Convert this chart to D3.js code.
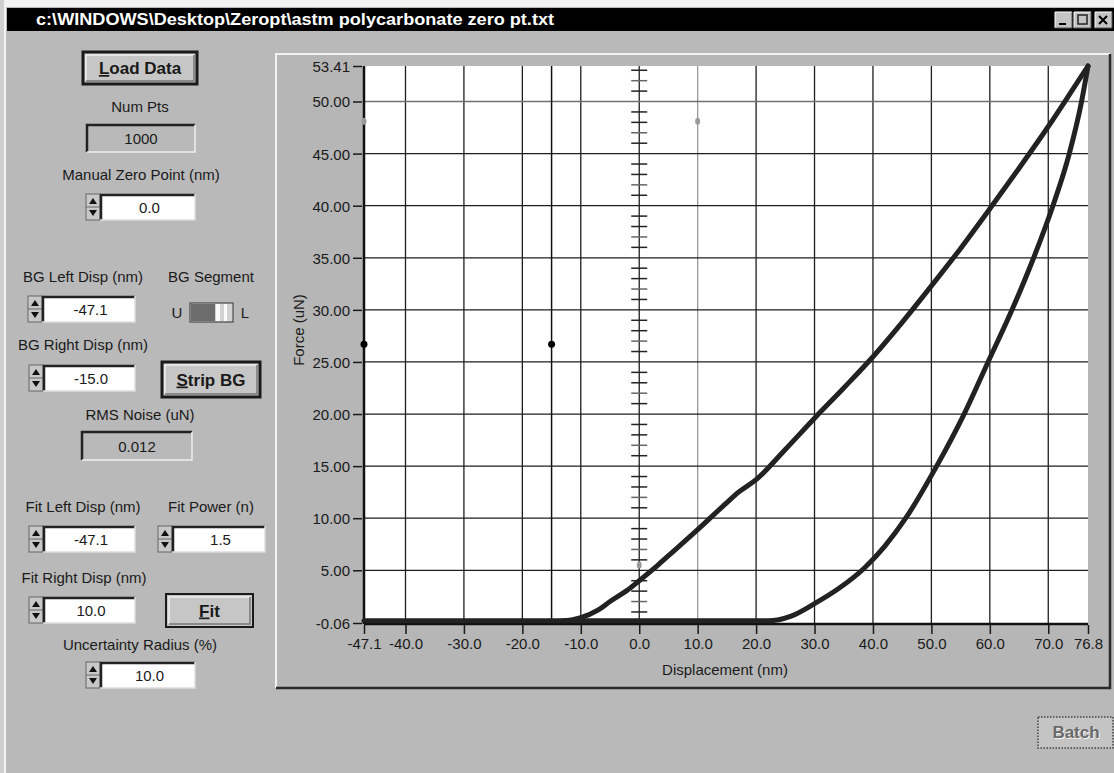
<!DOCTYPE html>
<html>
<head>
<meta charset="utf-8">
<title>astm polycarbonate zero pt</title>
<script src="https://d3js.org/d3.v7.min.js" charset="utf-8"></script>
<style>
  body { margin: 0; background: #b9b9b9; }
  svg { display: block; }
  text { font-family: "Liberation Sans", Arial, sans-serif; fill: #1a1a1a; }
</style>
</head>
<body>
<script>
// --- chart data ---
var loadDisp  = [-47.1, -13, -10, -7, -5, -2, 0, 3, 5, 10, 15, 17, 20, 25, 30, 35, 40, 45, 50, 55, 60, 65, 70, 74, 76.8];
var loadForce = [0.15, 0.15, 0.45, 1.2, 2.0, 3.1, 4.0, 5.4, 6.4, 8.9, 11.5, 12.5, 13.7, 16.6, 19.6, 22.5, 25.5, 28.8, 32.3, 35.9, 39.7, 43.6, 47.6, 51.0, 53.41];
var unloadDisp  = [-13, 0, 10, 20, 22, 26, 30, 34, 38.5, 42, 45.6, 50.9, 55.6, 59.7, 63.8, 67.5, 70.8, 73.6, 75.7, 76.8];
var unloadForce = [0.15, 0.15, 0.15, 0.15, 0.15, 0.6, 1.8, 3.2, 5.2, 7.3, 10.0, 15.0, 20.0, 25.0, 30.0, 35.0, 40.0, 45.0, 50.0, 53.41];

var xTicks = [-47.1, -40, -30, -20, -10, 0, 10, 20, 30, 40, 50, 60, 70, 76.8];
var yTicks = [-0.06, 5, 10, 15, 20, 25, 30, 35, 40, 45, 50, 53.41];
var xDomain = [-47.1, 76.8];
var yDomain = [-0.06, 53.41];

// cursors: background segment ends and fit markers
var blackDotDisp = [-47.1, -15.0];
var blackDotForce = [26.7, 26.7];
var grayDotDisp = [-47.1, 10.0, 0.0];
var grayDotForce = [48.1, 48.1, 5.5];
var ladderForce = d3.range(1, 54).filter(function(v) { return v % 5 !== 0; });

var W = 1114, H = 773;
var svg = d3.select("body").append("svg").attr("width", W).attr("height", H);

// window frame
svg.append("rect").attr("width", W).attr("height", H).attr("fill", "#b9b9b9");
svg.append("rect").attr("width", W).attr("height", 7).attr("fill", "#f2f2f2");
svg.append("rect").attr("width", 4).attr("height", H).attr("fill", "#cfcfcf");
svg.append("rect").attr("x", 4).attr("y", 7).attr("width", 2).attr("height", H).attr("fill", "#f4f4f4");
svg.append("rect").attr("x", 7).attr("y", 8).attr("width", W - 7).attr("height", 23).attr("fill", "#000");
svg.append("text").attr("x", 36).attr("y", 25)
    .attr("textLength", 518).attr("lengthAdjust", "spacingAndGlyphs")
    .style("font-size", "16px").style("font-weight", "bold").style("fill", "#fff")
    .text("c:\\WINDOWS\\Desktop\\Zeropt\\astm polycarbonate zero pt.txt");

// title bar buttons
[1055, 1074, 1095].forEach(function(bx, i) {
    var g = svg.append("g").attr("transform", "translate(" + bx + ",12)");
    g.append("rect").attr("width", 17).attr("height", 16).attr("fill", "#c4c4c4");
    g.append("path").attr("d", "M0,16V0H17").attr("fill", "none").attr("stroke", "#fff");
    g.append("path").attr("d", "M17,0V16H0").attr("fill", "none").attr("stroke", "#555");
    if (i === 0) g.append("rect").attr("x", 4).attr("y", 11).attr("width", 7).attr("height", 2).attr("fill", "#000");
    if (i === 1) g.append("rect").attr("x", 4).attr("y", 3).attr("width", 9).attr("height", 9).attr("fill", "none").attr("stroke", "#222").attr("stroke-width", 1.5);
    if (i === 2) g.append("path").attr("d", "M4,4L12,12M12,4L4,12").attr("stroke", "#000").attr("stroke-width", 2);
});

// --- helpers for the control panel ---
function label(x, y, t, anchor) {
    svg.append("text").attr("x", x).attr("y", y).attr("text-anchor", anchor || "middle")
        .style("font-size", "15px").text(t);
}
function button(x, y, w, h, t, bold, thick) {
    var g = svg.append("g").attr("transform", "translate(" + x + "," + y + ")");
    g.append("rect").attr("width", w).attr("height", h).attr("fill", "#c6c6c6")
        .attr("stroke", "#1a1a1a").attr("stroke-width", thick ? 3 : 2);
    g.append("path").attr("d", "M3," + (h - 3) + "V3H" + (w - 3)).attr("fill", "none").attr("stroke", "#eee").attr("stroke-width", 1.5);
    g.append("path").attr("d", "M" + (w - 3) + ",3V" + (h - 3) + "H3").attr("fill", "none").attr("stroke", "#777").attr("stroke-width", 1.5);
    var tx = g.append("text").attr("x", w / 2).attr("y", h / 2 + 6).attr("text-anchor", "middle")
        .style("font-size", "17px").style("font-weight", "bold").style("text-decoration", "none");
    tx.append("tspan").style("text-decoration", "underline").text(t[0]);
    tx.append("tspan").text(t.slice(1));
}
function indicator(x, y, w, h, t) {
    svg.append("rect").attr("x", x).attr("y", y).attr("width", w).attr("height", h).attr("fill", "#b9b9b9");
    svg.append("path").attr("d", "M" + x + "," + (y + h) + "V" + y + "H" + (x + w)).attr("fill", "none").attr("stroke", "#222").attr("stroke-width", 2.5);
    svg.append("path").attr("d", "M" + (x + w) + "," + y + "V" + (y + h) + "H" + x).attr("fill", "none").attr("stroke", "#eee").attr("stroke-width", 1.5);
    svg.append("text").attr("x", x + w / 2).attr("y", y + h / 2 + 5.5).attr("text-anchor", "middle")
        .style("font-size", "15px").text(t);
}
function spinBox(x, y, w, t) {
    var h = 26;
    var s = svg.append("g").attr("transform", "translate(" + x + "," + y + ")");
    s.append("rect").attr("width", 14).attr("height", h).attr("fill", "#c8c8c8").attr("stroke", "#666");
    s.append("line").attr("x1", 0).attr("x2", 14).attr("y1", h / 2).attr("y2", h / 2).attr("stroke", "#666");
    s.append("path").attr("d", "M3,10L7,4L11,10Z").attr("fill", "#111");
    s.append("path").attr("d", "M3,16L7,22L11,16Z").attr("fill", "#111");
    svg.append("rect").attr("x", x + 14).attr("y", y).attr("width", w).attr("height", h).attr("fill", "#fff");
    svg.append("path").attr("d", "M" + (x + 15) + "," + (y + h) + "V" + (y + 1) + "H" + (x + 14 + w)).attr("fill", "none").attr("stroke", "#222").attr("stroke-width", 2.5);
    svg.append("path").attr("d", "M" + (x + 14 + w) + "," + y + "V" + (y + h) + "H" + (x + 14)).attr("fill", "none").attr("stroke", "#ddd").attr("stroke-width", 1.5);
    svg.append("text").attr("x", x + 14 + w / 2 + 2).attr("y", y + h / 2 + 5.5).attr("text-anchor", "middle")
        .style("font-size", "15px").text(t);
}

// --- control panel ---
button(83, 52, 114, 32, "Load Data", true, true);
label(140, 112, "Num Pts");
indicator(87, 125, 108, 27, "1000");
label(141, 180, "Manual Zero Point (nm)");
spinBox(86, 194, 95, "0.0");

label(83, 282, "BG Left Disp (nm)");
label(211, 282, "BG Segment");
spinBox(28, 296, 93, "-47.1");
label(177, 318, "U");
label(245, 318, "L");
svg.append("rect").attr("x", 190).attr("y", 303).attr("width", 43).attr("height", 19).attr("fill", "#d2d2d2").attr("stroke", "#333");
svg.append("rect").attr("x", 191).attr("y", 304).attr("width", 24).attr("height", 17).attr("fill", "#6c6c6c");
svg.append("rect").attr("x", 216).attr("y", 304).attr("width", 4).attr("height", 17).attr("fill", "#fafafa");
svg.append("rect").attr("x", 224).attr("y", 304).attr("width", 3).attr("height", 17).attr("fill", "#fafafa");

label(83, 350, "BG Right Disp (nm)");
spinBox(29, 365, 92, "-15.0");
button(162, 362, 98, 35, "Strip BG", true, true);
label(140, 420, "RMS Noise (uN)");
indicator(82, 432, 110, 28, "0.012");

label(83, 512, "Fit Left Disp (nm)");
label(211, 512, "Fit Power (n)");
spinBox(29, 526, 92, "-47.1");
spinBox(158, 526, 93, "1.5");
label(84, 583, "Fit Right Disp (nm)");
spinBox(29, 597, 92, "10.0");
button(166, 594, 87, 33, "Fit", true, false);
label(140, 650, "Uncertainty Radius (%)");
spinBox(86, 662, 95, "10.0");

// Batch button (disabled)
var bb = svg.append("g").attr("transform", "translate(1038,717)");
bb.append("rect").attr("width", 75).attr("height", 31).attr("fill", "#c4c4c4")
    .attr("stroke", "#444").attr("stroke-dasharray", "1.5,1.5").attr("stroke-width", 1.5);
bb.append("text").attr("x", 39).attr("y", 22).attr("text-anchor", "middle")
    .style("font-size", "17px").style("font-weight", "bold").style("fill", "#f4f4f4").text("Batch");
bb.append("text").attr("x", 38).attr("y", 21).attr("text-anchor", "middle")
    .style("font-size", "17px").style("font-weight", "bold").style("fill", "#6a6a6a").text("Batch");

// --- graph panel ---
svg.append("rect").attr("x", 275).attr("y", 53).attr("width", 836).attr("height", 636).attr("fill", "#b6b6b6");
svg.append("path").attr("d", "M276,688V54H1110").attr("fill", "none").attr("stroke", "#f2f2f2").attr("stroke-width", 2);
svg.append("path").attr("d", "M1110,54V688H276").attr("fill", "none").attr("stroke", "#2a2a2a").attr("stroke-width", 2.5);

var x = d3.scaleLinear().domain(xDomain).range([364, 1088]);
var y = d3.scaleLinear().domain(yDomain).range([623, 66]);

var plot = svg.append("g");
plot.append("rect").attr("x", x(xDomain[0])).attr("y", y(yDomain[1]))
    .attr("width", x(xDomain[1]) - x(xDomain[0])).attr("height", y(yDomain[0]) - y(yDomain[1]))
    .attr("fill", "#fff");

// grid
plot.selectAll(".vg").data(xTicks.slice(1, -1)).enter().append("line")
    .attr("x1", function(d) { return x(d); }).attr("x2", function(d) { return x(d); })
    .attr("y1", y(yDomain[0])).attr("y2", y(yDomain[1]))
    .attr("stroke", function(d) { return d === 10 ? "#9a9a9a" : "#1e1e1e"; }).attr("stroke-width", 1.3);
plot.selectAll(".hg").data(yTicks.slice(1, -1)).enter().append("line")
    .attr("y1", function(d) { return y(d); }).attr("y2", function(d) { return y(d); })
    .attr("x1", x(xDomain[0])).attr("x2", x(xDomain[1]))
    .attr("stroke", function(d) { return d === 50 ? "#707070" : "#1e1e1e"; }).attr("stroke-width", 1.3);

// BG right cursor line
plot.append("line").attr("x1", x(blackDotDisp[1])).attr("x2", x(blackDotDisp[1]))
    .attr("y1", y(yDomain[0])).attr("y2", y(yDomain[1])).attr("stroke", "#111").attr("stroke-width", 1.5);

// ladder on the zero line
plot.selectAll(".ld").data(ladderForce).enter().append("line")
    .attr("x1", x(0) - 8).attr("x2", x(0) + 8)
    .attr("y1", function(d) { return y(d); }).attr("y2", function(d) { return y(d); })
    .attr("stroke", function(d) { return d % 5 === 2 ? "#666" : "#222"; }).attr("stroke-width", 1.5);

// axes
var yAxis = d3.axisLeft(y).tickValues(yTicks).tickSize(9).tickFormat(function(d) { return d.toFixed(2); });
var xAxis = d3.axisBottom(x).tickValues(xTicks).tickSize(9).tickFormat(function(d) { return d.toFixed(1); });
var ga = svg.append("g").attr("transform", "translate(" + (x(xDomain[0]) - 2) + ",0)").call(yAxis);
var gb = svg.append("g").attr("transform", "translate(0," + (y(yDomain[0]) + 2) + ")").call(xAxis);
[ga, gb].forEach(function(g) {
    g.select(".domain").remove();
    g.selectAll(".tick line").attr("stroke", "#1a1a1a").attr("stroke-width", 1.5);
    g.selectAll(".tick text").style("font-size", "15px").style("font-family", "'Liberation Sans', Arial, sans-serif").attr("fill", "#1a1a1a");
});
ga.selectAll(".tick text").attr("x", -12).attr("dy", "0.36em");
gb.selectAll(".tick text").attr("y", 13);
plot.append("line").attr("x1", x(xDomain[0])).attr("x2", x(xDomain[0])).attr("y1", y(yDomain[1])).attr("y2", y(yDomain[0]) + 1)
    .attr("stroke", "#111").attr("stroke-width", 2.5);
plot.append("line").attr("x1", x(xDomain[0])).attr("x2", x(xDomain[1])).attr("y1", y(yDomain[0]) + 1).attr("y2", y(yDomain[0]) + 1)
    .attr("stroke", "#111").attr("stroke-width", 2.5);

svg.append("text").attr("transform", "translate(304,330) rotate(-90)").attr("text-anchor", "middle")
    .style("font-size", "15px").text("Force (uN)");
svg.append("text").attr("x", 725).attr("y", 675).attr("text-anchor", "middle")
    .style("font-size", "15px").text("Displacement (nm)");

// curves
var line = d3.line().x(function(d) { return x(d[0]); }).y(function(d) { return y(d[1]); }).curve(d3.curveMonotoneX);
var loading = d3.zip(loadDisp, loadForce);
var unloading = d3.zip(unloadDisp, unloadForce);
[loading, unloading].forEach(function(pts) {
    plot.append("path").attr("d", line(pts)).attr("fill", "none")
        .attr("stroke", "#222").attr("stroke-width", 5).attr("stroke-linejoin", "round").attr("stroke-linecap", "round");
});

// cursor dots
plot.selectAll(".bd").data(d3.zip(blackDotDisp, blackDotForce)).enter().append("circle")
    .attr("cx", function(d) { return x(d[0]); }).attr("cy", function(d) { return y(d[1]); })
    .attr("r", 3.5).attr("fill", "#000");
plot.selectAll(".gd").data(d3.zip(grayDotDisp, grayDotForce)).enter().append("ellipse")
    .attr("cx", function(d) { return x(d[0]); }).attr("cy", function(d) { return y(d[1]); })
    .attr("rx", 2.5).attr("ry", 3.5).attr("fill", "#9a9a9a");
</script>
</body>
</html>
